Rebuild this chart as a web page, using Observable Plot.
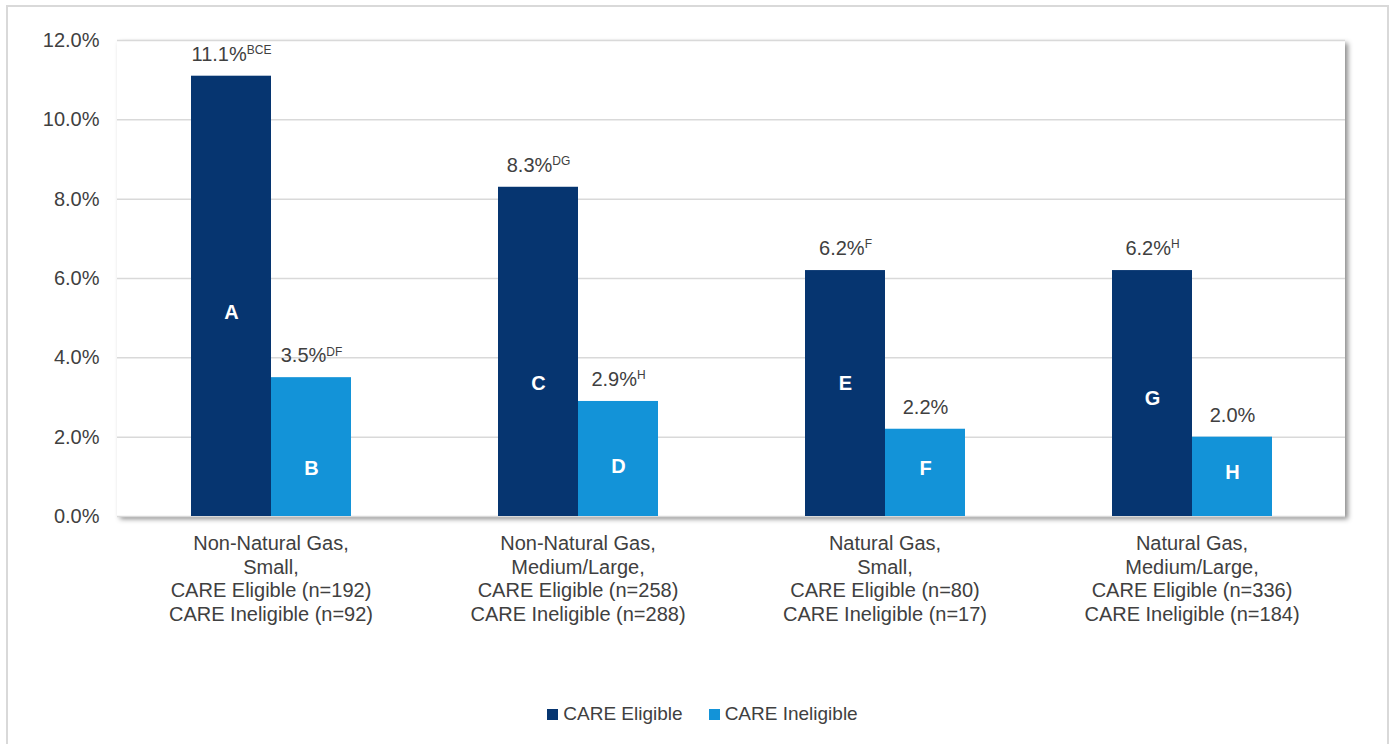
<!DOCTYPE html>
<html>
<head>
<meta charset="utf-8">
<script src="https://cdn.jsdelivr.net/npm/d3@7"></script>
<script src="https://cdn.jsdelivr.net/npm/@observablehq/plot@0.6"></script>
<style>
  body { margin: 0; background: #fff; font-family: "Liberation Sans", Arial, sans-serif; }
  #outer { position: absolute; left: 6px; top: 5px; width: 1383px; height: 800px; border: 2px solid #d9d9d9; box-sizing: border-box; }
  #panel { position: absolute; left: 117px; top: 40px; width: 1228px; height: 476px; background: #fff; box-shadow: 3px 3px 5px rgba(0,0,0,0.45); }
  #chart { position: absolute; left: 0; top: 0; }
  #legend { position: absolute; top: 703px; left: 6px; width: 1393px; display: flex; justify-content: center; align-items: center; font-size: 19px; color: #404040; }
  .item { display: flex; align-items: center; margin: 0 13px; }
  .sw { width: 11px; height: 11px; margin-right: 5px; }
</style>
</head>
<body>
<div id="outer"></div>
<div id="panel"></div>
<div id="chart"></div>
<div id="legend"></div>
<script>
// ---- data ----
const groups = ["NNG-Small", "NNG-MedLarge", "NG-Small", "NG-MedLarge"];
const groupLabels = [
  "Non-Natural Gas,\nSmall,\nCARE Eligible (n=192)\nCARE Ineligible (n=92)",
  "Non-Natural Gas,\nMedium/Large,\nCARE Eligible (n=258)\nCARE Ineligible (n=288)",
  "Natural Gas,\nSmall,\nCARE Eligible (n=80)\nCARE Ineligible (n=17)",
  "Natural Gas,\nMedium/Large,\nCARE Eligible (n=336)\nCARE Ineligible (n=184)"
];
const series = ["CARE Eligible", "CARE Ineligible"];
const colors = ["#063570", "#1393d8"];
const eligible = [11.1, 8.3, 6.2, 6.2];
const ineligible = [3.5, 2.9, 2.2, 2.0];
const eligibleSup = ["BCE", "DG", "F", "H"];
const ineligibleSup = ["DF", "H", "", ""];
const eligibleLetters = ["A", "C", "E", "G"];
const ineligibleLetters = ["B", "D", "F", "H"];
const eligibleLetterAt = [5.15, 3.35, 3.35, 2.97];
const ineligibleLetterAt = [1.2, 1.25, 1.2, 1.1];
const yTicks = [0, 2, 4, 6, 8, 10, 12];

// ---- build rows ----
const rows = [];
groups.forEach((g, i) => {
  rows.push({group: g, series: series[0], value: eligible[i], sup: eligibleSup[i], letter: eligibleLetters[i], letterAt: eligibleLetterAt[i]});
  rows.push({group: g, series: series[1], value: ineligible[i], sup: ineligibleSup[i], letter: ineligibleLetters[i], letterAt: ineligibleLetterAt[i]});
});
const groupRows = groups.map((g, i) => ({group: g, label: groupLabels[i]}));

const chart = Plot.plot({
  width: 1393,
  height: 660,
  marginLeft: 117,
  marginRight: 48,
  marginTop: 40,
  marginBottom: 144,
  style: { fontSize: "20px", fontFamily: "'Liberation Sans', Arial, sans-serif", color: "#404040", background: "transparent", overflow: "visible" },
  fx: { domain: groups, padding: 0, axis: null, label: null },
  x: { domain: series, paddingInner: 0, paddingOuter: 0.907, axis: null },
  y: { domain: [0, 12], ticks: yTicks, tickFormat: d => d.toFixed(1) + "%", tickSize: 0, tickPadding: 18, label: null },
  color: { domain: series, range: colors },
  marks: [
    Plot.ruleY(yTicks, { stroke: "#d9d9d9", strokeWidth: 1.5 }),
    Plot.barY(rows, { fx: "group", x: "series", y: "value", fill: "series" }),
    Plot.text(rows, { fx: "group", x: "series", y: "value", text: d => d.value.toFixed(1) + "%" + (d.sup ? "^" + d.sup : ""), dy: -22, fill: "#404040", fontSize: 20, className: "vlab" }),
    Plot.text(rows, { fx: "group", x: "series", y: "letterAt", text: "letter", fill: "white", fontWeight: "bold", fontSize: 20 }),
    Plot.text(groupRows, { fx: "group", text: "label", frameAnchor: "bottom", lineAnchor: "top", dy: 17, lineHeight: 1.18, fill: "#404040", fontSize: 20 })
  ]
});
document.getElementById("chart").appendChild(chart);

// superscripts
d3.select(chart).selectAll(".vlab text").each(function() {
  const t = this.textContent;
  const k = t.indexOf("^");
  if (k < 0) return;
  const main = t.slice(0, k), sup = t.slice(k + 1);
  const el = d3.select(this);
  el.text(main);
  el.append("tspan").attr("font-size", 12).attr("dy", -6.5).text(sup);
});

// legend
const leg = d3.select("#legend");
series.forEach((s, i) => {
  const it = leg.append("div").attr("class", "item");
  it.append("div").attr("class", "sw").style("background", colors[i]);
  it.append("span").text(s);
});
</script>
</body>
</html>
